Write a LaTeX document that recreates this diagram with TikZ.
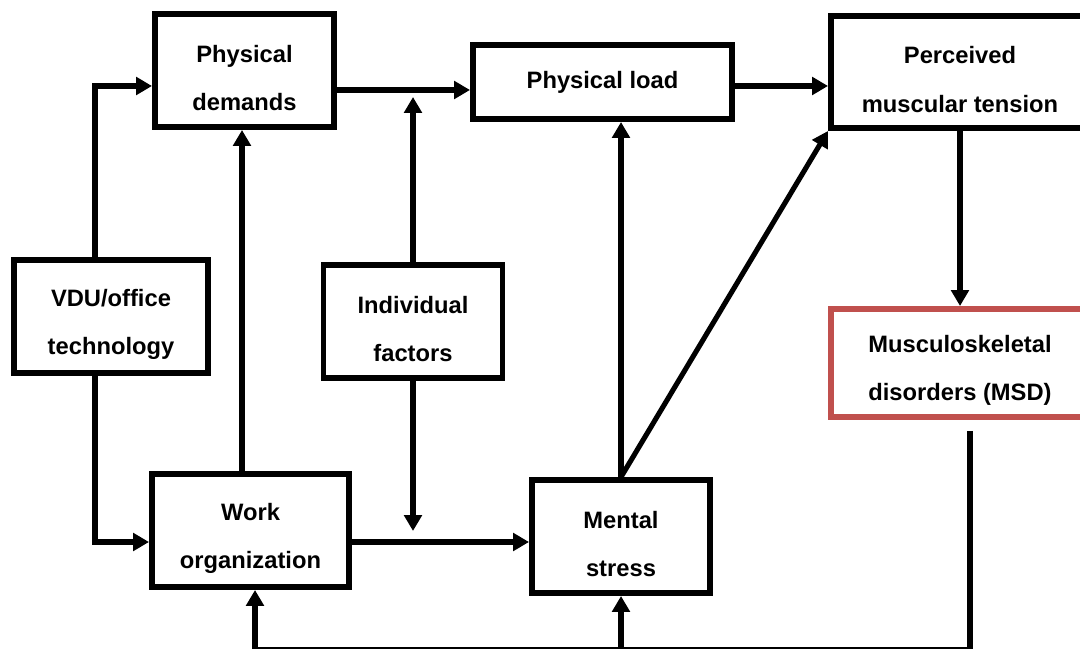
\documentclass[tikz,border=0pt]{standalone}
\usepackage{fontspec}
\setmainfont{Liberation Sans}
\usetikzlibrary{arrows.meta, positioning, calc}
\usepackage{xcolor}
\definecolor{cInk}{HTML}{000000}
\definecolor{cRed}{HTML}{C0504D}
\newcommand{\topgap}{\rule{0pt}{18.5pt}}
\tikzset{
  factorbox/.style={
    draw=#1, fill=white, line width=3.4pt,
    minimum width=3.58cm, minimum height=2.26cm,
    font=\bfseries\fontsize{13.5}{27.5}\selectfont, text=cInk,
    align=center, inner sep=2pt,
  },
  factorbox/.default=cInk,
  arw/.style={-{Triangle[length=0.32cm, width=0.35cm]}, line width=2.9pt, color=#1},
  arw/.default=cInk,
  plain/.style={line width=2.9pt, color=cInk},
}
\begin{document}
\begin{tikzpicture}

  \useasboundingbox (0,0) rectangle (21.6,12.96);

  % Boxes
  \node[factorbox] (pd) at (4.89,11.55) {\topgap Physical\\demands};
  \node[factorbox, minimum width=5.18cm, minimum height=1.48cm]
    (pl) at (12.05,11.32) {Physical load};
  \node[factorbox, minimum width=5.16cm, minimum height=2.24cm]
    (perc) at (19.20,11.52) {\topgap Perceived\\muscular tension};
  \node[factorbox, minimum width=3.88cm] (vdu) at (2.22,6.63) {\topgap VDU/office\\technology};
  \node[factorbox] (indiv) at (8.26,6.53) {\topgap Individual\\factors};
  \node[factorbox=cRed, minimum width=5.16cm, minimum height=2.16cm]
    (msd) at (19.20,5.70) {\topgap Musculoskeletal\\disorders (MSD)};
  \node[factorbox, minimum width=3.94cm] (wo) at (5.01,2.35) {\topgap Work\\organization};
  \node[factorbox, minimum width=3.56cm] (ms) at (12.42,2.23) {\topgap Mental\\stress};

  % Lanes
  \coordinate (laneA) at (1.90,11.24);
  \coordinate (laneB) at (1.90,2.12);
  \coordinate (laneC) at (4.84,0);
  \coordinate (pdy) at (0,11.16);
  \coordinate (ifup) at (8.26,11.02);
  \coordinate (ifdn) at (8.26,2.34);
  \coordinate (fbtop) at (19.40,4.34);
  \coordinate (fbbot) at (19.40,-0.04);
  \coordinate (fbwo) at (5.10,-0.04);

  % Connectors
  \draw[arw] (vdu.north -| laneA) |- (pd.west |- laneA);
  \draw[arw] (vdu.south -| laneB) |- (wo.west |- laneB);
  \draw[arw] (wo.north -| laneC) -- (pd.south -| laneC);
  \draw[arw] (pd.east |- pdy) -- (pl.west |- pdy);
  \draw[arw] (indiv.north) -- (ifup);
  \draw[arw] (indiv.south) -- (ifdn);
  \draw[arw] (wo.east |- laneB) -- (ms.west |- laneB);
  \draw[arw] (ms.north) -- (pl.south -| ms.north);
  \draw[arw] (ms.north) -- (perc.south west);
  \draw[arw] (pl.east |- laneA) -- (perc.west |- laneA);
  \draw[arw] (perc.south) -- (msd.north);

  % Feedback loop
  \draw[plain] (fbtop) -- (fbbot) -- (fbwo);
  \draw[arw] (fbwo) -- (wo.south -| fbwo);
  \draw[arw] (ms.south |- fbbot) -- (ms.south);

\end{tikzpicture}
\end{document}
